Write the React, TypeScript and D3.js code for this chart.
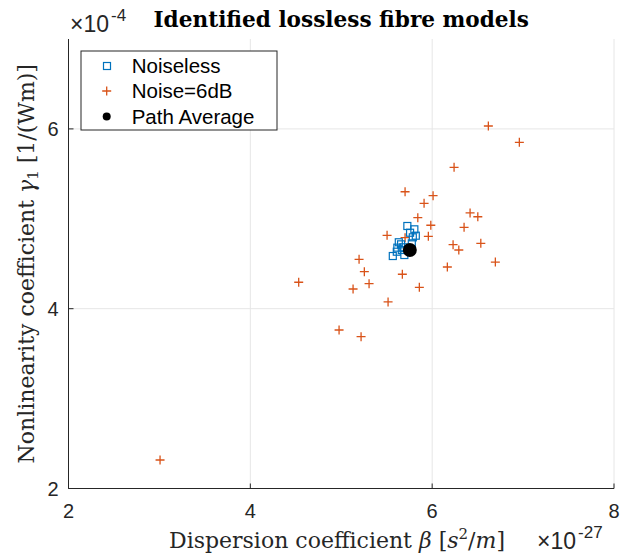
import React from "react";
import * as d3 from "d3";

// Noise=6dB estimates (x in 1e-27 s^2/m, y in 1e-4 1/(Wm))
const noisyBeta = [6.618, 6.959, 6.241, 5.702, 6.01, 5.911, 6.417, 6.502, 5.842, 5.985, 6.351, 5.504, 5.958, 5.702, 6.535, 6.23, 6.293, 5.196, 6.695, 6.167, 5.254, 5.672, 4.532, 5.306, 5.13, 5.859, 5.515, 4.976, 5.218, 3.007];
const noisyGamma = [6.032, 5.851, 5.573, 5.301, 5.257, 5.172, 5.065, 5.023, 5.012, 4.928, 4.905, 4.816, 4.805, 4.79, 4.727, 4.712, 4.653, 4.549, 4.519, 4.464, 4.412, 4.383, 4.294, 4.278, 4.219, 4.238, 4.075, 3.763, 3.689, 2.317];

// Noiseless estimates
const cleanBeta = [5.727, 5.804, 5.757, 5.82, 5.787, 5.633, 5.658, 5.617, 5.567, 5.611, 5.666, 5.694, 5.683, 5.776];
const cleanGamma = [4.92, 4.883, 4.845, 4.812, 4.794, 4.739, 4.716, 4.679, 4.586, 4.634, 4.653, 4.597, 4.683, 4.727];

// Path average
const avgBeta = [5.754];
const avgGamma = [4.653];

const xTicks = [2, 4, 6, 8];
const yTicks = [2, 4, 6];
const legendLabels = ["Noiseless", "Noise=6dB", "Path Average"];

const W = 630;
const H = 553;
const margin = { top: 39, right: 16, bottom: 64.5, left: 68.5 };

const blue = "#0072BD";
const orange = "#D95319";
const axisColor = "#262626";
const sans = "'Liberation Sans', Arial, sans-serif";
const serif = "'DejaVu Serif', serif";

export default function App() {
  const x = d3.scaleLinear().domain([2, 8]).range([margin.left, W - margin.right]);
  const y = d3.scaleLinear().domain([2, 7]).range([H - margin.bottom, margin.top]);
  const [x0, x1] = x.range();
  const [y0, y1] = y.range();

  const noisy = noisyBeta.map((b, i) => ({ b, g: noisyGamma[i] }));
  const clean = cleanBeta.map((b, i) => ({ b, g: cleanGamma[i] }));
  const avg = avgBeta.map((b, i) => ({ b, g: avgGamma[i] }));

  const plus = (cx: number, cy: number, s: number, key: any) => (
    <path key={key} d={`M${cx - s},${cy}H${cx + s}M${cx},${cy - s}V${cy + s}`} stroke={orange} strokeWidth={1.3} fill="none" />
  );

  return (
    <svg width={W} height={H} style={{ position: "absolute", left: 0, top: 0, background: "#fff" }}>
      {/* grid */}
      <g stroke="#e6e6e6" strokeWidth={1}>
        {xTicks.slice(1).map((t) => (
          <line key={"gx" + t} x1={x(t)} x2={x(t)} y1={y0} y2={y1} />
        ))}
        {yTicks.slice(1).map((t) => (
          <line key={"gy" + t} x1={x0} x2={x1} y1={y(t)} y2={y(t)} />
        ))}
      </g>

      {/* axes */}
      <g stroke={axisColor} strokeWidth={1} fill="none">
        <line x1={x0} x2={x1} y1={y0} y2={y0} />
        <line x1={x0} x2={x0} y1={y0} y2={y1} />
        {xTicks.map((t) => (
          <line key={"tx" + t} x1={x(t)} x2={x(t)} y1={y0} y2={y0 - 5} />
        ))}
        {yTicks.map((t) => (
          <line key={"ty" + t} x1={x0} x2={x0 + 5} y1={y(t)} y2={y(t)} />
        ))}
      </g>
      <g fontFamily={sans} fontSize={20} fill={axisColor}>
        {xTicks.map((t) => (
          <text key={"lx" + t} x={x(t)} y={518} textAnchor="middle">{t}</text>
        ))}
        {yTicks.map((t) => (
          <text key={"ly" + t} x={x0 - 10} y={y(t) + 7} textAnchor="end">{t}</text>
        ))}
        <text x={70} y={32} fontSize={23}>×10<tspan fontSize={17} dx={2} dy={-11}>-4</tspan></text>
        <text x={537} y={549} fontSize={23}>×10<tspan fontSize={17} dx={2} dy={-11}>-27</tspan></text>
      </g>

      {/* data */}
      <g>
        {noisy.map((d, i) => plus(x(d.b), y(d.g), 4.5, "n" + i))}
        {clean.map((d, i) => (
          <rect key={"c" + i} x={x(d.b) - 3.5} y={y(d.g) - 3.5} width={7} height={7} fill="none" stroke={blue} strokeWidth={1.2} />
        ))}
        {avg.map((d, i) => (
          <circle key={"a" + i} cx={x(d.b)} cy={y(d.g)} r={7} fill="#000" />
        ))}
      </g>

      {/* legend */}
      <g>
        <rect x={81} y={51} width={196} height={79} fill="#fff" stroke={axisColor} strokeWidth={1} />
        <rect x={103.5} y={62.5} width={7} height={7} fill="none" stroke={blue} strokeWidth={1.2} />
        {plus(106.7, 91, 4.5, "lp")}
        <circle cx={106.7} cy={116.5} r={4} fill="#000" />
        <g fontFamily={sans} fontSize={20.5} fill="#000">
          {legendLabels.map((l, i) => (
            <text key={l} x={131.7} y={66 + i * 25.3 + 7}>{l}</text>
          ))}
        </g>
      </g>

      {/* title and labels */}
      <text x={(x0 + x1) / 2} y={27} textAnchor="middle" fontFamily={serif} fontWeight="bold" fontSize={21.6} fill="#000">
        Identified lossless fibre models
      </text>
      <text x={337} y={548} textAnchor="middle" fontFamily={serif} fontSize={22} fill={axisColor}>
        Dispersion coefficient <tspan fontStyle="italic">β</tspan> [<tspan fontStyle="italic">s</tspan>
        <tspan fontSize={15} dy={-9}>2</tspan>
        <tspan dy={9}>/</tspan>
        <tspan fontStyle="italic">m</tspan>]
      </text>
      <text transform={`translate(34,${(y0 + y1) / 2}) rotate(-90)`} textAnchor="middle" fontFamily={serif} fontSize={22} fill={axisColor}>
        Nonlinearity coefficient <tspan fontStyle="italic">γ</tspan>
        <tspan fontSize={15} dy={4}>1</tspan>
        <tspan dy={-4}> [1/(Wm)]</tspan>
      </text>
    </svg>
  );
}
